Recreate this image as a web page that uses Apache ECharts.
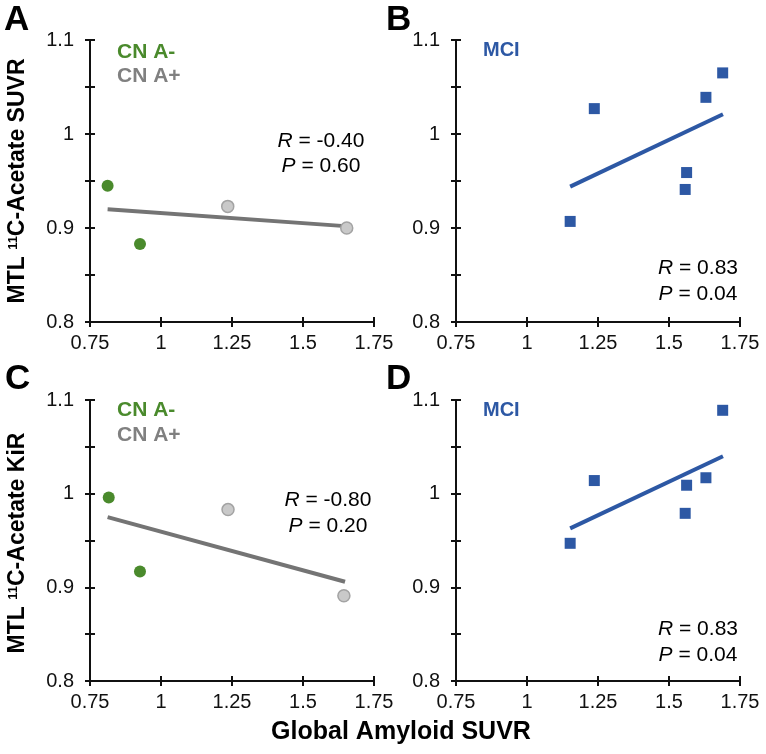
<!DOCTYPE html>
<html>
<head>
<meta charset="utf-8">
<script src="https://cdn.jsdelivr.net/npm/echarts@6/dist/echarts.min.js"></script>
<style>
html,body{margin:0;padding:0;background:#fff;}
#chart{width:766px;height:754px;}
</style>
</head>
<body>
<div id="chart"></div>
<script>
// ---- data ----
const xTickValues = [0.75, 1, 1.25, 1.5, 1.75];
const yTickValues = [0.8, 0.9, 1, 1.1];

const A_cnNeg = [[0.812, 0.945], [0.926, 0.883]];
const A_cnPos = [[1.235, 0.923], [1.654, 0.900]];
const A_fit   = [[0.812, 0.920], [1.648, 0.902]];

const B_mci = [[1.152, 0.907], [1.237, 1.027], [1.562, 0.959], [1.557, 0.941], [1.630, 1.039], [1.689, 1.065]];
const B_fit = [[1.152, 0.944], [1.690, 1.021]];

const C_cnNeg = [[0.816, 0.996], [0.926, 0.917]];
const C_cnPos = [[1.236, 0.983], [1.644, 0.891]];
const C_fit   = [[0.812, 0.975], [1.648, 0.906]];

const D_mci = [[1.152, 0.947], [1.237, 1.014], [1.562, 1.009], [1.557, 0.979], [1.630, 1.017], [1.689, 1.089]];
const D_fit = [[1.152, 0.963], [1.690, 1.040]];

const statsA = ['-0.40', '0.60'];
const statsB = ['0.83', '0.04'];
const statsC = ['-0.80', '0.20'];
const statsD = ['0.83', '0.04'];

// ---- styling ----
const FONT = '"Liberation Sans", Arial, sans-serif';
const GREEN = '#4a8a2c';
const GRAY_FILL = '#c9c9c9';
const GRAY_EDGE = '#a3a3a3';
const GRAY_LINE = '#747474';
const BLUE = '#2d58a4';
const AXIS = '#111';

const grids = [
  {left: 90,  top: 40,  width: 284, height: 282},
  {left: 456, top: 40,  width: 284, height: 282},
  {left: 90,  top: 400, width: 284, height: 281},
  {left: 456, top: 400, width: 284, height: 281}
];

const xMin = xTickValues[0], xMax = xTickValues[xTickValues.length - 1];
const yMin = yTickValues[0], yMax = yTickValues[yTickValues.length - 1];

const xAxes = [], yAxes = [];
grids.forEach((g, i) => {
  const xBase = {gridIndex: i, type: 'value', min: xMin, max: xMax, interval: 0.25, splitLine: {show: false}};
  const yBase = {gridIndex: i, type: 'value', min: yMin, max: yMax, interval: 0.05, splitLine: {show: false}};
  xAxes.push(Object.assign({}, xBase, {
    position: 'bottom',
    axisLine: {show: true, lineStyle: {color: AXIS, width: 2}},
    axisTick: {show: true, inside: false, length: 5, lineStyle: {color: AXIS, width: 2}},
    axisLabel: {show: true, margin: 11, fontSize: 20, fontFamily: FONT, color: '#111',
      formatter: v => String(Math.round(v * 100) / 100)}
  }));
  xAxes.push(Object.assign({}, xBase, {
    position: 'bottom',
    axisLine: {show: false},
    axisTick: {show: true, inside: true, length: 5, lineStyle: {color: AXIS, width: 2}},
    axisLabel: {show: false}
  }));
  yAxes.push(Object.assign({}, yBase, {
    position: 'left',
    axisLine: {show: true, lineStyle: {color: AXIS, width: 2}},
    axisTick: {show: true, inside: false, length: 5, lineStyle: {color: AXIS, width: 2}},
    axisLabel: {show: true, margin: 16, fontSize: 20, fontFamily: FONT, color: '#111',
      formatter: v => (Math.round(v * 100) % 10 === 0 ? String(Math.round(v * 10) / 10) : '')}
  }));
  yAxes.push(Object.assign({}, yBase, {
    position: 'left',
    axisLine: {show: false},
    axisTick: {show: true, inside: true, length: 5, lineStyle: {color: AXIS, width: 2}},
    axisLabel: {show: false}
  }));
});

function fitLine(i, data, color) {
  return {type: 'line', xAxisIndex: 2 * i, yAxisIndex: 2 * i, data: data, showSymbol: false, symbol: 'none',
    lineStyle: {color: color, width: 4, opacity: 1}, z: 2, silent: true};
}
function greenDots(i, data) {
  return {type: 'scatter', xAxisIndex: 2 * i, yAxisIndex: 2 * i, data: data, symbol: 'circle', symbolSize: 12,
    itemStyle: {color: GREEN, opacity: 1}, z: 3};
}
function grayDots(i, data) {
  return {type: 'scatter', xAxisIndex: 2 * i, yAxisIndex: 2 * i, data: data, symbol: 'circle', symbolSize: 12,
    itemStyle: {color: GRAY_FILL, borderColor: GRAY_EDGE, borderWidth: 1.5, opacity: 1}, z: 3};
}
function squares(i, data) {
  return {type: 'scatter', xAxisIndex: 2 * i, yAxisIndex: 2 * i, data: data, symbol: 'rect', symbolSize: 11,
    itemStyle: {color: BLUE, opacity: 1}, z: 3};
}

const series = [
  fitLine(0, A_fit, GRAY_LINE), greenDots(0, A_cnNeg), grayDots(0, A_cnPos),
  fitLine(1, B_fit, BLUE), squares(1, B_mci),
  fitLine(2, C_fit, GRAY_LINE), greenDots(2, C_cnNeg), grayDots(2, C_cnPos),
  fitLine(3, D_fit, BLUE), squares(3, D_mci)
];

function txt(x, y, text, opts) {
  return {type: 'text', x: x, y: y, silent: true,
    style: Object.assign({text: text, fontFamily: FONT, fill: '#000', textVerticalAlign: 'middle'}, opts)};
}
const richStat = {i: {fontStyle: 'italic', fontSize: 21, fontFamily: FONT}};
function stats(cx, y1, y2, s) {
  return [
    txt(cx, y1, '{i|R} = ' + s[0], {textAlign: 'center', fontSize: 21, rich: richStat}),
    txt(cx, y2, '{i|P} = ' + s[1], {textAlign: 'center', fontSize: 21, rich: richStat})
  ];
}
function yTitle(x, y, rest) {
  return {type: 'text', x: x, y: y, rotation: Math.PI / 2, silent: true,
    style: {text: '{b|MTL }{s|11}{b|C-Acetate ' + rest + '}', textAlign: 'center', textVerticalAlign: 'middle',
      rich: {
        b: {fontSize: 23, fontWeight: 'bold', fontFamily: FONT, fill: '#000'},
        s: {fontSize: 13, fontWeight: 'bold', fontFamily: FONT, fill: '#000', verticalAlign: 'top'}
      }}};
}

const graphic = [
  txt(4, 20, 'A', {fontSize: 35, fontWeight: 'bold', textAlign: 'left'}),
  txt(386, 20, 'B', {fontSize: 35, fontWeight: 'bold', textAlign: 'left'}),
  txt(5, 379, 'C', {fontSize: 35, fontWeight: 'bold', textAlign: 'left'}),
  txt(386, 379, 'D', {fontSize: 35, fontWeight: 'bold', textAlign: 'left'}),

  txt(117, 52, 'CN A-', {fontSize: 21, fontWeight: 'bold', fill: GREEN, textAlign: 'left'}),
  txt(117, 76, 'CN A+', {fontSize: 21, fontWeight: 'bold', fill: '#808080', textAlign: 'left'}),
  txt(117, 410, 'CN A-', {fontSize: 21, fontWeight: 'bold', fill: GREEN, textAlign: 'left'}),
  txt(117, 435, 'CN A+', {fontSize: 21, fontWeight: 'bold', fill: '#808080', textAlign: 'left'}),
  txt(483, 50, 'MCI', {fontSize: 20, fontWeight: 'bold', fill: BLUE, textAlign: 'left'}),
  txt(483, 410, 'MCI', {fontSize: 20, fontWeight: 'bold', fill: BLUE, textAlign: 'left'}),

  ...stats(321, 141, 166, statsA),
  ...stats(698, 268, 294, statsB),
  ...stats(328, 500, 526, statsC),
  ...stats(698, 629, 655, statsD),

  yTitle(18, 181, 'SUVR'),
  yTitle(18, 543, 'KiR'),
  txt(401, 732, 'Global Amyloid SUVR', {fontSize: 25, fontWeight: 'bold', textAlign: 'center'})
];

const chart = echarts.init(document.getElementById('chart'), null, {renderer: 'canvas'});
chart.setOption({
  animation: false,
  backgroundColor: '#fff',
  grid: grids,
  xAxis: xAxes,
  yAxis: yAxes,
  series: series,
  graphic: graphic
});
</script>
</body>
</html>
